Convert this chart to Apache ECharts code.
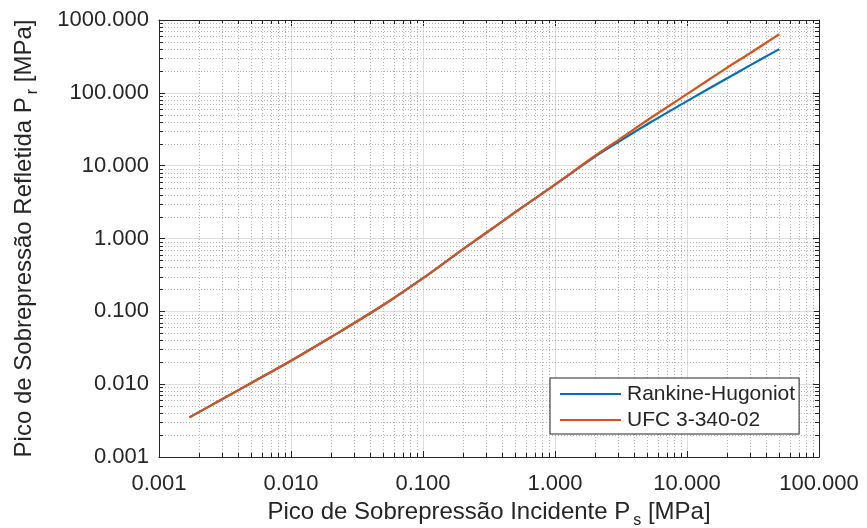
<!DOCTYPE html>
<html>
<head>
<meta charset="utf-8">
<script src="https://cdn.jsdelivr.net/npm/echarts@6/dist/echarts.min.js"></script>
<style>
  html, body { margin: 0; padding: 0; background: #fff; }
  #chart { width: 867px; height: 528px; }
</style>
</head>
<body>
<div id="chart"></div>
<script>
// Incident peak overpressure Ps [MPa]
const psRH  = [0.0017, 0.003, 0.005, 0.01, 0.02, 0.05, 0.1, 0.2, 0.3, 0.5, 1, 2, 3, 5, 10, 20, 30, 50];
// Reflected peak overpressure Pr [MPa], Rankine-Hugoniot
const prRH  = [0.0035, 0.0062, 0.0104, 0.021, 0.044, 0.122, 0.285, 0.71, 1.19, 2.3, 5.5, 13.2, 21, 37, 77, 157, 238, 398];
// Reflected peak overpressure Pr [MPa], UFC 3-340-02
const psUFC = [0.0017, 0.003, 0.005, 0.01, 0.02, 0.05, 0.1, 0.2, 0.3, 0.5, 1, 2, 3, 5, 10, 20, 30, 50];
const prUFC = [0.0035, 0.0062, 0.0104, 0.021, 0.044, 0.122, 0.285, 0.71, 1.19, 2.3, 5.5, 13.6, 22.3, 42, 96, 220, 350, 640];

const seriesNames = ['Rankine-Hugoniot', 'UFC 3-340-02'];
const xDecades = [0.001, 0.01, 0.1, 1, 10];
const yDecades = [0.001, 0.01, 0.1, 1, 10, 100];
const minorSteps = [2, 3, 4, 5, 6, 7, 8, 9];

const xMinor = [];
xDecades.forEach(d => minorSteps.forEach(m => xMinor.push(+(d * m).toPrecision(3))));
const yMinor = [];
yDecades.forEach(d => minorSteps.forEach(m => yMinor.push(+(d * m).toPrecision(3))));

const FONT = 'Liberation Sans, Arial, Helvetica, sans-serif';
const INK = '#262626';
const MAJOR_GRID = '#dedede';
const MINOR_GRID = '#b5b5b5';
const TICK_MINOR = 4;

function zip(a, b) { return a.map((v, i) => [v, b[i]]); }
function fmt(v) { return Number(v).toFixed(3); }

// dotted minor grid + inner minor ticks on all four sides
function xMinorItem(params, api) {
  const cs = params.coordSys;
  const x = Math.round(api.coord([api.value(0), 1])[0]) + 0.5;
  const y0 = cs.y, y1 = cs.y + cs.height;
  return { type: 'group', children: [
    { type: 'line', shape: { x1: x, y1: y0, x2: x, y2: y1 }, style: { stroke: MINOR_GRID, lineWidth: 1, lineDash: [1, 2] } },
    { type: 'line', shape: { x1: x, y1: y1, x2: x, y2: y1 - TICK_MINOR }, style: { stroke: INK, lineWidth: 1 } },
    { type: 'line', shape: { x1: x, y1: y0, x2: x, y2: y0 + TICK_MINOR }, style: { stroke: INK, lineWidth: 1 } }
  ]};
}
function yMinorItem(params, api) {
  const cs = params.coordSys;
  const y = Math.round(api.coord([1, api.value(1)])[1]) + 0.5;
  const x0 = cs.x, x1 = cs.x + cs.width;
  return { type: 'group', children: [
    { type: 'line', shape: { x1: x0, y1: y, x2: x1, y2: y }, style: { stroke: MINOR_GRID, lineWidth: 1, lineDash: [1, 2] } },
    { type: 'line', shape: { x1: x0, y1: y, x2: x0 + TICK_MINOR, y2: y }, style: { stroke: INK, lineWidth: 1 } },
    { type: 'line', shape: { x1: x1, y1: y, x2: x1 - TICK_MINOR, y2: y }, style: { stroke: INK, lineWidth: 1 } }
  ]};
}

const nameRich = {
  t: { fontFamily: FONT, fontSize: 24, color: INK },
  s: { fontFamily: FONT, fontSize: 16, color: INK, padding: [18, 0, 0, 3] }
};

function logAxis(extra) {
  return Object.assign({
    type: 'log',
    logBase: 10,
    axisLine: { show: true, onZero: false, lineStyle: { color: INK, width: 1 } },
    axisTick: { show: true, inside: true, length: 6, lineStyle: { color: INK, width: 1 } },
    axisLabel: { show: true, color: INK, fontFamily: FONT, fontSize: 22, formatter: fmt },
    splitLine: { show: false },
    minorTick: { show: false },
    minorSplitLine: { show: false }
  }, extra);
}

const chart = echarts.init(document.getElementById('chart'), null, { renderer: 'canvas' });
chart.setOption({
  animation: false,
  backgroundColor: '#fff',
  textStyle: { fontFamily: FONT },
  grid: { left: 159, right: 48, top: 20, bottom: 71, containLabel: false, outerBoundsMode: 'none' },
  xAxis: [
    logAxis({
      min: 0.001, max: 100, position: 'bottom',
      axisLabel: { show: true, color: INK, fontFamily: FONT, fontSize: 22, margin: 16, formatter: fmt },
      splitLine: { show: true, lineStyle: { color: MAJOR_GRID, width: 1 } },
      name: '{t|Pico de Sobrepressão Incidente P}{s|s}{t| [MPa]}',
      nameLocation: 'middle', nameGap: 33,
      nameTextStyle: { rich: nameRich }
    }),
    logAxis({ min: 0.001, max: 100, position: 'top', axisLabel: { show: false } })
  ],
  yAxis: [
    logAxis({
      min: 0.001, max: 1000, position: 'left',
      axisLabel: { show: true, color: INK, fontFamily: FONT, fontSize: 22, margin: 10, formatter: fmt },
      splitLine: { show: true, lineStyle: { color: MAJOR_GRID, width: 1 } },
      name: '{t|Pico de Sobrepressão Refletida P}{s|r}{t| [MPa]}',
      nameLocation: 'middle', nameGap: 118,
      nameTextStyle: { rich: nameRich }
    }),
    logAxis({ min: 0.001, max: 1000, position: 'right', axisLabel: { show: false } })
  ],
  legend: {
    data: seriesNames.map(n => ({ name: n, icon: 'rect' })),
    orient: 'vertical',
    left: 550, top: 378,
    padding: [5, 4, 3, 10],
    itemGap: 4,
    itemWidth: 61,
    itemHeight: 2,
    backgroundColor: '#fff',
    borderColor: INK,
    borderWidth: 1,
    borderRadius: 0,
    textStyle: { color: INK, fontFamily: FONT, fontSize: 21, lineHeight: 22, padding: [0, 0, 0, 1] },
    selectedMode: false
  },
  series: [
    { type: 'custom', silent: true, z: 1, renderItem: xMinorItem, data: xMinor.map(v => [v, 1]), xAxisIndex: 0, yAxisIndex: 0 },
    { type: 'custom', silent: true, z: 1, renderItem: yMinorItem, data: yMinor.map(v => [1, v]), xAxisIndex: 0, yAxisIndex: 0 },
    {
      name: seriesNames[0], type: 'line', z: 3,
      data: zip(psRH, prRH), smooth: 0.35, symbol: 'none',
      lineStyle: { color: '#0072BD', width: 2.2 }, itemStyle: { color: '#0072BD' }
    },
    {
      name: seriesNames[1], type: 'line', z: 4,
      data: zip(psUFC, prUFC), smooth: 0.35, symbol: 'none',
      lineStyle: { color: '#D95319', width: 2.2 }, itemStyle: { color: '#D95319' }
    }
  ]
});
</script>
</body>
</html>
